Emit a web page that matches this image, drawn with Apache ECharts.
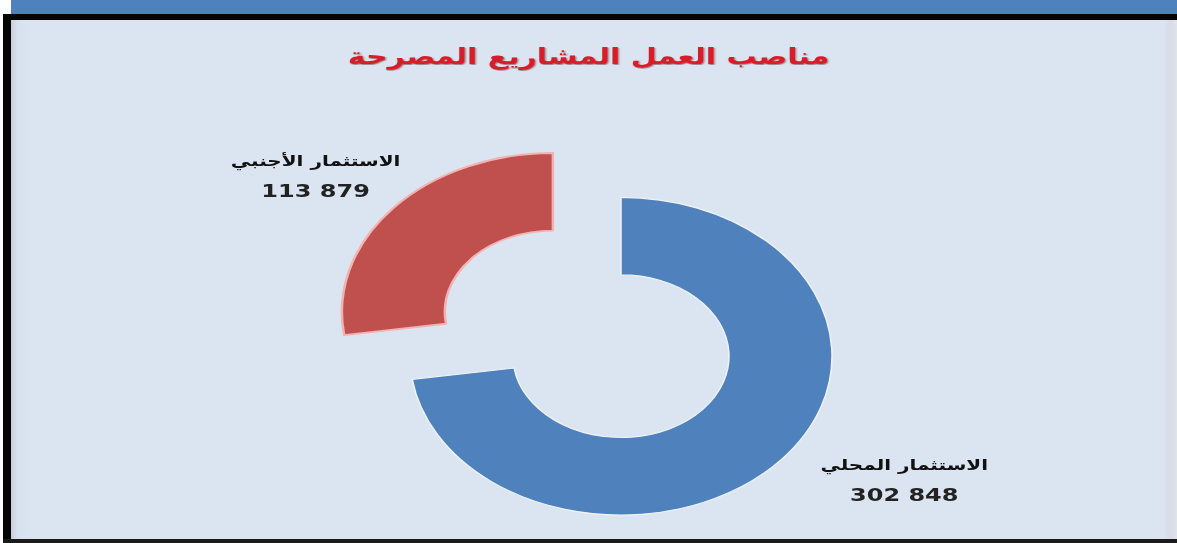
<!DOCTYPE html>
<html>
<head>
<meta charset="utf-8">
<script src="https://cdn.jsdelivr.net/npm/echarts@6/dist/echarts.min.js"></script>
<style>
  html, body { margin: 0; padding: 0; background: #ffffff; }
  #frame { position: relative; width: 1177px; height: 543px; overflow: hidden; background: #ffffff; }
  .bar { position: absolute; left: 11px; top: 0; width: 1166px; height: 14px; background: #4f81bd; }
  .edgeTop { position: absolute; left: 3px; top: 14px; width: 1174px; height: 6px; background: #050505; }
  .edgeLeft { position: absolute; left: 3px; top: 14px; width: 8px; height: 529px; background: #050505; }
  .edgeBottom { position: absolute; left: 3px; top: 539px; width: 1174px; height: 4px; background: #1a1a1a; }
  .panel { position: absolute; left: 11px; top: 20px; width: 1166px; height: 519px;
           background: linear-gradient(to right, #c9ced6 0px, #d6e2ef 6px, #dbe5f1 20px, #dbe5f1 1152px, #d7dce6 1160px, #e2e4ea 1166px); }
  /* the chart is drawn taller and squeezed vertically, giving the ring its oval shape */
  #chart { position: absolute; left: 0; top: 0; width: 1177px; height: 721px;
           transform: scaleY(0.7531); transform-origin: 0 0; }
</style>
</head>
<body>
<div id="frame">
  <div class="bar"></div>
  <div class="edgeTop"></div>
  <div class="edgeLeft"></div>
  <div class="panel"></div>
  <div class="edgeBottom"></div>
  <div id="chart"></div>
</div>
<script>
// Job positions of declared projects, by type of investment
const titleText = 'مناصب العمل المشاريع المصرحة';
const categories = ['الاستثمار المحلي', 'الاستثمار الأجنبي'];
const values = [302848, 113879];
const colors = ['#4f81bd', '#c0504d'];

// "302 848" style grouping with a space
function groupDigits(n) {
  return String(n).replace(/\B(?=(\d{3})+(?!\d))/g, ' ');
}

const chart = echarts.init(document.getElementById('chart'), null, { renderer: 'svg' });

const pieData = categories.map((name, i) => ({
  name: name,
  value: values[i],
  selected: i === 1,
  itemStyle: {
    color: colors[i],
    borderColor: i === 1 ? '#f1b3b1' : '#eef3fa',
    borderWidth: i === 1 ? 2.5 : 1.5
  }
}));

// label nudges per slice (dx, dy)
const labelShift = [[16, 20], [30, -36]];

chart.setOption({
  backgroundColor: 'transparent',
  title: {
    text: titleText,
    left: 'center',
    top: 54,
    textStyle: {
      fontFamily: 'DejaVu Sans',
      fontWeight: 'bold',
      fontSize: 30,
      color: '#d81f2a',
      textShadowColor: 'rgba(90,0,0,0.55)',
      textShadowBlur: 2,
      textShadowOffsetX: 1,
      textShadowOffsetY: 1
    }
  },
  series: [{
    type: 'pie',
    center: [621, 473],
    radius: [108, 211],
    startAngle: 90,
    clockwise: true,
    selectedMode: 'single',
    selectedOffset: 90,
    animation: false,
    silent: true,
    emphasis: { disabled: true },
    labelLine: { show: false, length: 10, length2: 0 },
    label: {
      show: true,
      position: 'outside',
      formatter: p => '{n|' + p.name + '}\n{v|' + groupDigits(p.value) + '}',
      rich: {
        n: { fontFamily: 'DejaVu Sans', fontWeight: 'bold', fontSize: 20, color: '#111111', width: 190, align: 'center', lineHeight: 40 },
        v: { fontFamily: 'DejaVu Sans', fontWeight: 'bold', fontSize: 24, color: '#222222', width: 190, align: 'center', lineHeight: 40 }
      }
    },
    labelLayout: p => ({ dx: labelShift[p.dataIndex][0], dy: labelShift[p.dataIndex][1] }),
    data: pieData
  }]
});
</script>
</body>
</html>
